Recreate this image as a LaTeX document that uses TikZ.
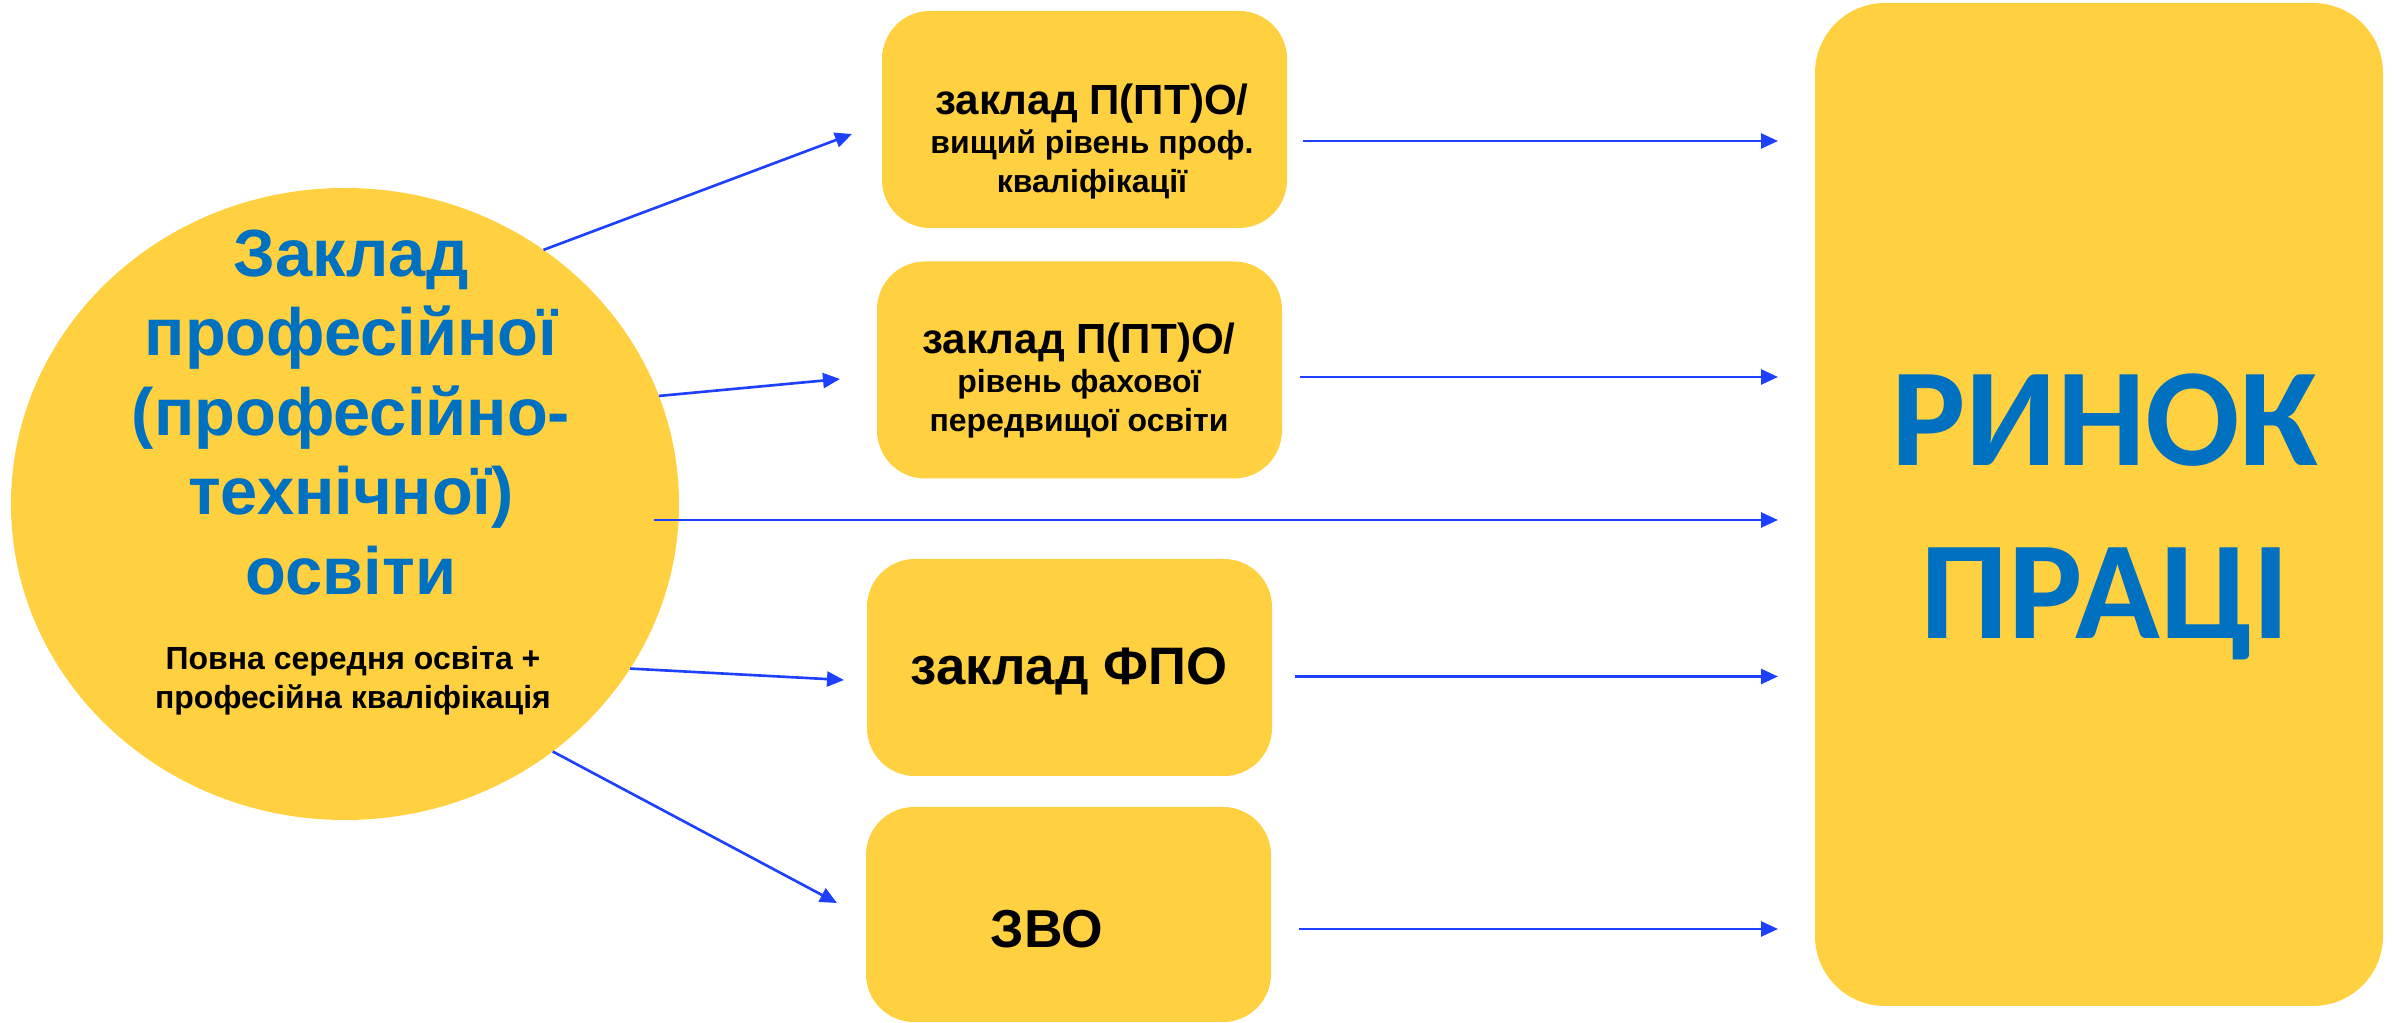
\documentclass[tikz,border=0pt]{standalone}
\usepackage{fontspec}
\setmainfont{Liberation Sans}
\newfontfamily\rinokfont{Carlito}
\usepackage{tikz}
\usetikzlibrary{arrows.meta, positioning, shapes.geometric}
\definecolor{zhovtyi}{HTML}{FFD141}
\definecolor{syniy}{HTML}{0070C0}
\definecolor{strilka}{HTML}{1E40FF}
\tikzset{
        arr/.style={-{Triangle[length=0.17cm,width=0.15cm]}, color=strilka, line width=0.75pt}, % blue connectors
    }
\tikzstyle{kolo}=[ellipse,fill=zhovtyi,minimum width=6.68cm,minimum height=6.32cm,inner sep=0pt,outer sep=0pt]
\tikzstyle{blok}=[rectangle,rounded corners=0.48cm,fill=zhovtyi,minimum width=4.05cm,minimum height=2.17cm,inner sep=0pt,outer sep=0pt]
\tikzstyle{bloktext}=[font=\bfseries\fontsize{9.1}{11.1}\selectfont,align=center,inner sep=0pt]
\newcommand{\perrow}[1]{{\fontsize{12}{11.1}\selectfont #1}}

\begin{document}
\begin{tikzpicture}
    \useasboundingbox (0,0) rectangle (23.95,-10.23);
    % left circle
    \node[kolo] (zakl) at (3.45,-5.04) {};
    \node[anchor=north,align=center,inner sep=0pt,text=syniy,font=\bfseries\fontsize{19}{22.6}\selectfont]
        (zakltxt) at (3.51,-2.29) {Заклад\\професійної\\(професійно-\\технічної)\\освіти};
    \node[anchor=north,align=center,inner sep=0pt,font=\bfseries\fontsize{9.1}{10.9}\selectfont]
        (zaklpid) at (3.53,-6.46) {Повна середня освіта +\\професійна кваліфікація};
    % middle column
    \node[blok] (p1) at (10.845,-1.195) {};
    \node[bloktext,anchor=north] (p1txt) at (10.92,-0.835) {\perrow{заклад П(ПТ)О/}\\вищий рівень проф.\\кваліфікації};
    \node[blok] (p2) at (10.795,-3.70) {};
    \node[bloktext,anchor=north] (p2txt) at (10.79,-3.225) {\perrow{заклад П(ПТ)О/}\\рівень фахової\\передвищої освіти};
    \node[blok] (fpo) at (10.695,-6.675) {};
    \node[anchor=base,inner sep=0pt,font=\bfseries\fontsize{15}{17}\selectfont] (fpotxt) at (10.69,-6.85) {заклад ФПО};
    \node[blok,minimum height=2.15cm] (zvo) at (10.685,-9.145) {};
    \node[anchor=base,inner sep=0pt,font=\bfseries\fontsize{15.2}{17}\selectfont] (zvotxt) at (10.47,-9.48) {ЗВО};
    % labour market
    \node[blok,rounded corners=0.7cm,minimum width=5.68cm,minimum height=10.03cm] (rinok) at (20.99,-5.045) {};
    \node[anchor=north,align=center,inner sep=0pt,text=syniy,font=\rinokfont\bfseries\fontsize{39.8}{49.2}\selectfont]
        (rinoktxt) at (21.05,-3.73) {РИНОК\\ПРАЦІ};
    \coordinate (rin) at ([xshift=-0.37cm]rinok.west);
    % arrows from the circle
    \draw[arr] (zakl.52) -- ([xshift=-0.30cm,yshift=-0.145cm]p1.west);
    \draw[arr] (zakl.19) -- ([xshift=-0.37cm,yshift=-0.09cm]p2.west);
    \draw[arr] ([xshift=-0.25cm,yshift=-0.16cm]zakl.east) coordinate (a3) -- (a3 -| rin);
    \draw[arr] (zakl.-30) -- ([xshift=-0.23cm,yshift=-0.125cm]fpo.west);
    \draw[arr] (zakl.-50) -- ([xshift=-0.29cm,yshift=0.115cm]zvo.west);
    % arrows to the market
    \draw[arr] ([xshift=0.16cm,yshift=-0.215cm]p1.east) coordinate (b1) -- (b1 -| rin);
    \draw[arr] ([xshift=0.18cm,yshift=-0.07cm]p2.east) coordinate (b2) -- (b2 -| rin);
    \draw[arr] ([xshift=0.23cm,yshift=-0.09cm]fpo.east) coordinate (b3) -- (b3 -| rin);
    \draw[arr] ([xshift=0.28cm,yshift=-0.145cm]zvo.east) coordinate (b4) -- (b4 -| rin);
\end{tikzpicture}
\end{document}
